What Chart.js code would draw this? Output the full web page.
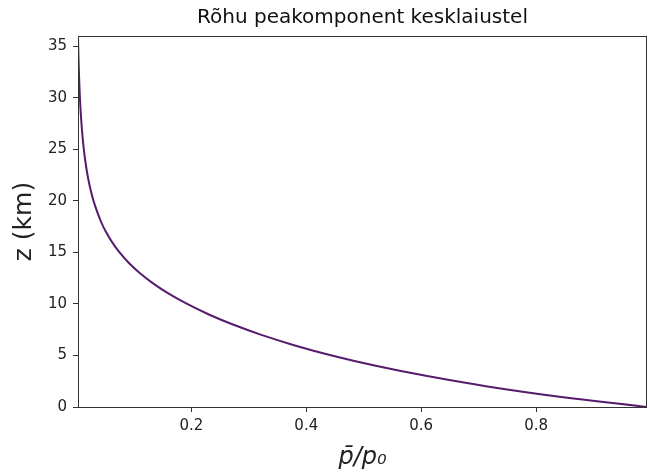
<!DOCTYPE html>
<html>
<head>
<meta charset="utf-8">
<script src="https://cdn.jsdelivr.net/npm/chart.js@4.4.0/dist/chart.umd.min.js"></script>
<style>
  html, body { margin: 0; padding: 0; background: #fff; }
  #wrap { width: 650px; height: 475px; }
</style>
</head>
<body>
<div id="wrap"><canvas id="pressureChart" width="650" height="475"></canvas></div>
<script>
// values: height z (km) and relative pressure p/p0
const height = [0, 1, 2, 3, 4, 5, 6, 7, 8, 9, 10, 11, 12, 13, 14, 15, 16, 17, 18, 20, 22, 24, 26, 28, 30, 32, 34, 36];
const pressure = [0.993, 0.8406, 0.7153, 0.6104, 0.5208, 0.4444, 0.3787, 0.3218, 0.2724, 0.2296, 0.1927, 0.1606, 0.1333, 0.1101, 0.0909, 0.0750, 0.0620, 0.0513, 0.0426, 0.0297, 0.0210, 0.0151, 0.0110, 0.0081, 0.00606, 0.00459, 0.00350, 0.00268];
const xTicks = [0.2, 0.4, 0.6, 0.8];
const yTicks = [0, 5, 10, 15, 20, 25, 30, 35];

const font = 'DejaVu Sans';
const ink = '#222';

// frame round the plot area, like the matplotlib axes box
const frame = {
    id: 'frame',
    afterDraw(chart) {
        const a = chart.chartArea;
        const c = chart.ctx;
        c.save();
        c.strokeStyle = '#333';
        c.lineWidth = 1;
        c.strokeRect(Math.round(a.left) + 0.5, Math.round(a.top) + 0.5,
            Math.round(a.right - a.left) - 1, Math.round(a.bottom - a.top));
        c.restore();
    }
};

let ctx = document.getElementById("pressureChart").getContext('2d');

let myChart = new Chart(ctx, {
    type: 'scatter',
    data: {
        datasets: [{
            data: pressure.map((p, i) => ({ x: p, y: height[i] })),
            showLine: true,
            borderColor: '#561b6d',
            borderWidth: 2,
            pointRadius: 0,
            tension: 0.4
        }]
    },
    options: {
        responsive: false,
        animation: false,
        layout: { padding: { left: 0, right: 3, top: 0, bottom: 0 } },
        plugins: {
            legend: { display: false },
            tooltip: { enabled: false },
            title: {
                display: true,
                fullSize: false,
                text: 'Rõhu peakomponent kesklaiustel',
                color: '#111',
                font: { family: font, size: 20, weight: 'normal' },
                padding: { top: 6, bottom: 6 }
            }
        },
        scales: {
            x: {
                type: 'linear',
                min: 0.0027,
                max: 0.993,
                afterBuildTicks: s => { s.ticks = xTicks.map(v => ({ value: v })); },
                afterFit: s => { s.height = 68; },
                ticks: {
                    color: ink,
                    padding: 5,
                    font: { family: font, size: 15 },
                    callback: v => v.toFixed(1)
                },
                grid: { display: true, drawOnChartArea: false, drawTicks: true, tickLength: 5, color: '#333' },
                border: { display: false },
                title: {
                    display: true,
                    text: 'p̄/p₀',
                    color: ink,
                    font: { family: font, size: 24, style: 'italic' },
                    padding: { top: 0, bottom: 3 }
                }
            },
            y: {
                type: 'linear',
                min: 0,
                max: 36,
                afterBuildTicks: s => { s.ticks = yTicks.map(v => ({ value: v })); },
                afterFit: s => { s.width = 78; },
                ticks: {
                    color: ink,
                    padding: 6,
                    font: { family: font, size: 15 }
                },
                grid: { display: true, drawOnChartArea: false, drawTicks: true, tickLength: 5, color: '#333' },
                border: { display: false },
                title: {
                    display: true,
                    text: 'z (km)',
                    color: ink,
                    font: { family: font, size: 25 },
                    padding: { top: 9, bottom: 0 }
                }
            }
        }
    },
    plugins: [frame]
});
</script>
</body>
</html>
